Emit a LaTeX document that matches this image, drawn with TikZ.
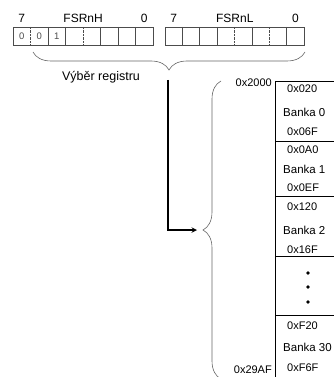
\documentclass[tikz,border=0pt]{standalone}
\usepackage{fontspec}
\setmainfont{Liberation Sans}
\usetikzlibrary{positioning, arrows.meta, decorations.pathreplacing}

\begin{document}
\begin{tikzpicture}[
    x=1pt, y=-1pt,
    >=stealth,
    bitcell/.style={minimum width=17.4pt, minimum height=18pt, inner sep=0pt, font=\fontsize{9.5}{10}\selectfont, text=black!70},
    bitlabel/.style={font=\fontsize{12}{14}\selectfont, inner sep=0pt},
    addr/.style={font=\fontsize{11}{13}\selectfont, anchor=west, inner sep=0pt},
    bank/.style={draw, thick, minimum width=70pt, anchor=north west, inner sep=0pt},
    brace/.style={decorate, decoration={brace, amplitude=18pt}, draw=black!60, semithick},
  ]
  \clip (0,0) rectangle (334,377);

  % Draw the two registers
  \foreach \i in {0,...,7} {
    \node[bitcell] (H-\i) at (21.75+17.5*\i, 36) {};
    \node[bitcell] (L-\i) at (173.7+17.4*\i, 36) {};
  }
  \foreach \i/\v in {0/0, 1/0, 2/1}
    \node[bitcell] at (H-\i) {\v};
  \draw[black!70] (H-0.north west) rectangle (H-7.south east);
  \draw[black!70] (L-0.north west) rectangle (L-7.south east);
  \foreach \i/\s in {1/densely dotted, 2/solid, 3/solid, 4/densely dotted, 5/solid, 6/solid, 7/solid} {
    \draw[black!70, \s] (H-\i.north west) -- (H-\i.south west);
  }
  \foreach \i/\s in {1/solid, 2/solid, 3/solid, 4/densely dotted, 5/solid, 6/densely dotted, 7/solid} {
    \draw[black!70, \s] (L-\i.north west) -- (L-\i.south west);
  }

  % Bit numbers and register names
  \node[bitlabel, above=4pt of H-0] {7};
  \node[bitlabel, above=4pt of H-7] {0};
  \node[bitlabel, above=4pt of H-3.north east] {FSRnH};
  \node[bitlabel, above=4pt of L-0] {7};
  \node[bitlabel, above=4pt of L-7] {0};
  \node[bitlabel, above=4pt of L-3.north east] {FSRnL};

  % Brace under the registers
  \coordinate (regl) at (33,52);
  \coordinate (regr) at (305,52);
  \draw[brace, decoration={mirror}] (regl) -- (regr);
  \node[bitlabel, font=\fontsize{12.5}{14}\selectfont] (sel) at (101,77) {Výběr registru};

  % Memory banks
  \foreach \name/\top/\h/\lo/\num/\hi/\a/\b/\c in {B0/81/60/0x020/0/0x06F/8/31/51, B1/141/55/0x0A0/1/0x0EF/9/28/47, B2/196/60/0x120/2/0x16F/11/34/54, B30/315/65/0xF20/30/0xF6F/11/32/53} {
    \node[bank, minimum height=\h pt] (\name) at (275,\top) {};
    \node[addr] at ([xshift=12pt, yshift=-\a pt]\name.north west) {\lo};
    \node[addr, font=\fontsize{11.5}{13}\selectfont] at ([xshift=8pt, yshift=-\b pt]\name.north west) {Banka \num};
    \node[addr] at ([xshift=12pt, yshift=-\c pt]\name.north west) {\hi};
  }
  \node[bank, minimum height=59pt] (Bd) at (275,256) {};
  \foreach \d in {17,31,46}
    \fill ([xshift=33pt, yshift=-\d pt]Bd.north west) circle (1.8pt);

  % Brace over the whole address range
  \coordinate (memt) at (221,81);
  \coordinate (memb) at (221,379);
  \draw[brace, decoration={mirror}] (memt) -- (memb);
  \node[addr, anchor=east] (first) at (272,83) {0x2000};
  \node[addr, anchor=east] (last) at (272,370) {0x29AF};

  % Selection arrow
  \coordinate (selstart) at (168,80);
  \coordinate (memtip) at (203,230);
  \draw[line width=1.4pt, ->, shorten >=6pt] (selstart) |- (memtip);
\end{tikzpicture}
\end{document}
